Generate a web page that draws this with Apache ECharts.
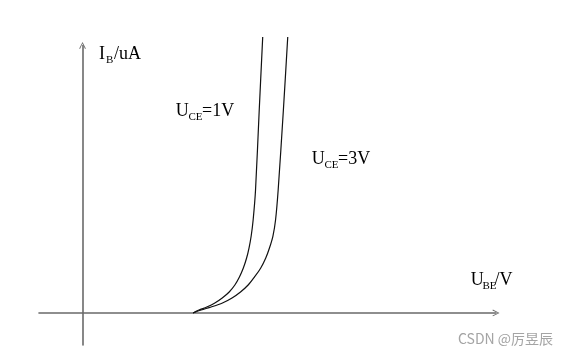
<!DOCTYPE html>
<html>
<head>
<meta charset="UTF-8">
<title>BJT input characteristic</title>
<style>
    * { margin: 0; padding: 0; }
    html, body { width: 100%; height: 100%; background: #fff; }
    #chart { width: 573px; height: 355px; }
</style>
</head>
<body>
<div id="chart"></div>
<script src="https://cdn.jsdelivr.net/npm/echarts@6/dist/echarts.min.js"></script>
<script>
// I_B (uA) readings shared by both curves
var ibValues = [0, 1.08, 2.21, 3.70, 5.57, 7.82, 10.43, 13.42, 16.79, 20.53, 24.27, 28.76, 34.74, 45.96, 75.88, 103.18];
// U_BE (V) for U_CE = 1V and U_CE = 3V
var ubeAt1V = [0.508, 0.535, 0.571, 0.608, 0.642, 0.674, 0.700, 0.721, 0.739, 0.754, 0.765, 0.775, 0.784, 0.795, 0.812, 0.828];
var ubeAt3V = [0.508, 0.545, 0.591, 0.643, 0.687, 0.726, 0.761, 0.790, 0.819, 0.842, 0.859, 0.875, 0.887, 0.899, 0.923, 0.943];

function pairs(xs, ys) {
    var out = [];
    for (var i = 0; i < xs.length; i++) out.push([xs[i], ys[i]]);
    return out;
}

var serif = '"Liberation Serif", "DejaVu Serif", serif';
var chevron = 'path://M0,10 L5,0 L10,10 L8.8,10.6 L5,2.4 L1.2,10.6 Z';

// text with a subscript: main, sub and tail pieces laid out by hand
function subLabel(x, base, main, sub, tail, subDx, tailDx) {
    function piece(dx, b, txt, size) {
        return {
            type: 'text', x: x + dx, y: b + 0.1625 * size,
            style: { text: txt, fill: '#000', font: size + 'px ' + serif, verticalAlign: 'bottom' }
        };
    }
    return [
        piece(0, base, main, 18),
        piece(subDx, base + 3.4, sub, 11),
        piece(tailDx, base, tail, 18)
    ];
}

var labels = [].concat(
    subLabel(99, 60.7, 'I', 'B', '/uA', 7, 15),
    subLabel(175.7, 117.3, 'U', 'CE', '=1V', 12.8, 26.3),
    subLabel(311.7, 165, 'U', 'CE', '=3V', 12.8, 26.3),
    subLabel(470.7, 286.7, 'U', 'BE', '/V', 11.8, 23.8),
    [{
        type: 'text', x: 458, y: 339,
        style: { text: 'CSDN @厉昱辰', fill: '#a4a4a4', font: '14px "Noto Sans CJK SC", "Noto Sans", sans-serif', verticalAlign: 'middle' }
    }]
);

var chart = echarts.init(document.getElementById('chart'));
chart.setOption({
    animation: false,
    grid: { left: 39, right: 77, top: 45.5, bottom: 10 },
    xAxis: {
        type: 'value', min: -0.2, max: 1.9,
        axisLine: {
            show: true, onZero: true,
            symbol: ['none', chevron], symbolSize: [10, 7],
            lineStyle: { color: '#6a6a6a', width: 1.6 }
        },
        axisTick: { show: false }, axisLabel: { show: false }, splitLine: { show: false }
    },
    yAxis: {
        type: 'value', min: -12, max: 100,
        axisLine: {
            show: true, onZero: true,
            symbol: ['none', chevron], symbolSize: [10, 7],
            lineStyle: { color: '#6a6a6a', width: 1.6 }
        },
        axisTick: { show: false }, axisLabel: { show: false }, splitLine: { show: false }
    },
    series: [
        {
            name: 'UCE=1V', type: 'line', data: pairs(ubeAt1V, ibValues),
            showSymbol: false, symbol: 'none', smooth: 0.3, clip: false,
            lineStyle: { color: '#111', width: 1.2 }
        },
        {
            name: 'UCE=3V', type: 'line', data: pairs(ubeAt3V, ibValues),
            showSymbol: false, symbol: 'none', smooth: 0.3, clip: false,
            lineStyle: { color: '#111', width: 1.2 }
        }
    ],
    graphic: labels
});
</script>
</body>
</html>
